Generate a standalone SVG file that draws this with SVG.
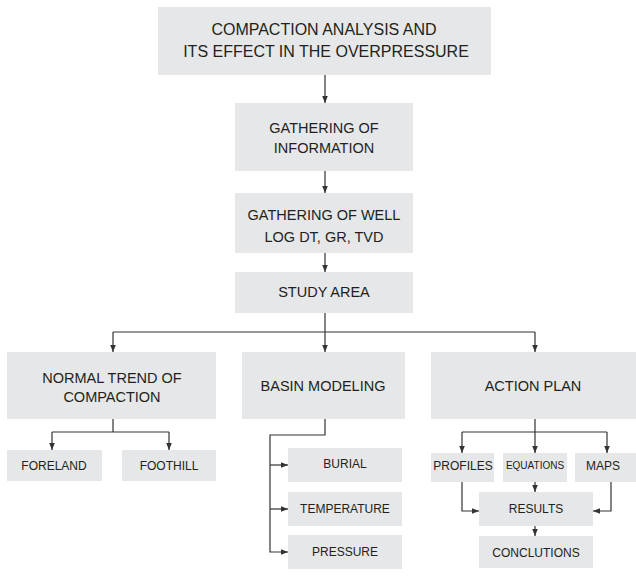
<svg xmlns="http://www.w3.org/2000/svg" width="636" height="581" viewBox="0 0 636 581">
<defs>
<style>
.box{fill:#e6e7e8;}
.t{font-family:"Liberation Sans",Arial,sans-serif;fill:#231f20;text-anchor:middle;}
.t16{font-size:16px;}
.t15{font-size:14.5px;}
.t12{font-size:12px;}
.t10{font-size:10px;}
.c{fill:none;stroke:#333;stroke-width:1.2;}
</style>
<marker id="ah" viewBox="0 0 8 8" refX="8" refY="4" markerWidth="7" markerHeight="7" markerUnits="userSpaceOnUse" orient="auto">
<path d="M0,0.8 L8,4 L0,7.2 Z" fill="#333"/>
</marker>
</defs>
<rect width="636" height="581" fill="#fff"/>
<g id="connectors">
<path class="c" d="M325,75 V103" marker-end="url(#ah)"/>
<path class="c" d="M325,171 V193" marker-end="url(#ah)"/>
<path class="c" d="M325,253 V272" marker-end="url(#ah)"/>
<path class="c" d="M325,313 V332 M113,332 H535"/>
<path class="c" d="M113,332 V352" marker-end="url(#ah)"/>
<path class="c" d="M325,332 V352" marker-end="url(#ah)"/>
<path class="c" d="M535,332 V352" marker-end="url(#ah)"/>
<path class="c" d="M113,419 V432 M52,432 H169"/>
<path class="c" d="M52,432 V450" marker-end="url(#ah)"/>
<path class="c" d="M169,432 V450" marker-end="url(#ah)"/>
<path class="c" d="M325,419 V435 H270 V552 H288" marker-end="url(#ah)"/>
<path class="c" d="M270,465 H288" marker-end="url(#ah)"/>
<path class="c" d="M270,509 H288" marker-end="url(#ah)"/>
<path class="c" d="M535,419 V432 M462,432 H607"/>
<path class="c" d="M462,432 V453" marker-end="url(#ah)"/>
<path class="c" d="M535,432 V453" marker-end="url(#ah)"/>
<path class="c" d="M607,432 V453" marker-end="url(#ah)"/>
<path class="c" d="M462,482 V511 H479" marker-end="url(#ah)"/>
<path class="c" d="M535,482 V492" marker-end="url(#ah)"/>
<path class="c" d="M611,482 V511 H593" marker-end="url(#ah)"/>
<path class="c" d="M535,526 V536" marker-end="url(#ah)"/>
</g>
<g id="n-title"><rect class="box" x="158" y="7" width="333" height="68"/>
<text class="t t16" x="324" y="35">COMPACTION ANALYSIS AND</text>
<text class="t t16" x="326" y="57">ITS EFFECT IN THE OVERPRESSURE</text></g>
<g id="n-info"><rect class="box" x="235" y="103" width="178" height="68"/>
<text class="t t15" x="324" y="133">GATHERING OF</text>
<text class="t t15" x="324" y="153">INFORMATION</text></g>
<g id="n-well"><rect class="box" x="235" y="193" width="178" height="60"/>
<text class="t t15" x="324" y="220">GATHERING OF WELL</text>
<text class="t t15" x="324" y="242">LOG DT, GR, TVD</text></g>
<g id="n-study"><rect class="box" x="235" y="272" width="178" height="41"/>
<text class="t t15" x="324" y="297">STUDY AREA</text></g>
<g id="n-normal"><rect class="box" x="7" y="352" width="209" height="67"/>
<text class="t t15" x="112" y="383">NORMAL TREND OF</text>
<text class="t t15" x="112" y="402">COMPACTION</text></g>
<g id="n-basin"><rect class="box" x="242" y="352" width="163" height="67"/>
<text class="t t15" x="323" y="391">BASIN MODELING</text></g>
<g id="n-action"><rect class="box" x="431" y="352" width="205" height="67"/>
<text class="t t15" x="533" y="391">ACTION PLAN</text></g>
<g id="n-foreland"><rect class="box" x="7" y="450" width="95" height="31"/>
<text class="t t12" x="54" y="470">FORELAND</text></g>
<g id="n-foothill"><rect class="box" x="122" y="450" width="94" height="31"/>
<text class="t t12" x="169" y="470">FOOTHILL</text></g>
<g id="n-burial"><rect class="box" x="288" y="448" width="114" height="34"/>
<text class="t t12" x="345" y="468">BURIAL</text></g>
<g id="n-temp"><rect class="box" x="288" y="492" width="114" height="34"/>
<text class="t t12" x="345" y="513">TEMPERATURE</text></g>
<g id="n-pressure"><rect class="box" x="288" y="535" width="114" height="34"/>
<text class="t t12" x="345" y="556">PRESSURE</text></g>
<g id="n-profiles"><rect class="box" x="431" y="453" width="63" height="29"/>
<text class="t t12" x="463" y="470">PROFILES</text></g>
<g id="n-equations"><rect class="box" x="503" y="453" width="64" height="29"/>
<text class="t t10" x="535" y="469">EQUATIONS</text></g>
<g id="n-maps"><rect class="box" x="575" y="453" width="61" height="29"/>
<text class="t t12" x="603" y="470">MAPS</text></g>
<g id="n-results"><rect class="box" x="479" y="492" width="114" height="34"/>
<text class="t t12" x="536" y="513">RESULTS</text></g>
<g id="n-conclutions"><rect class="box" x="479" y="536" width="114" height="32"/>
<text class="t t12" x="536" y="557">CONCLUTIONS</text></g>
</svg>
